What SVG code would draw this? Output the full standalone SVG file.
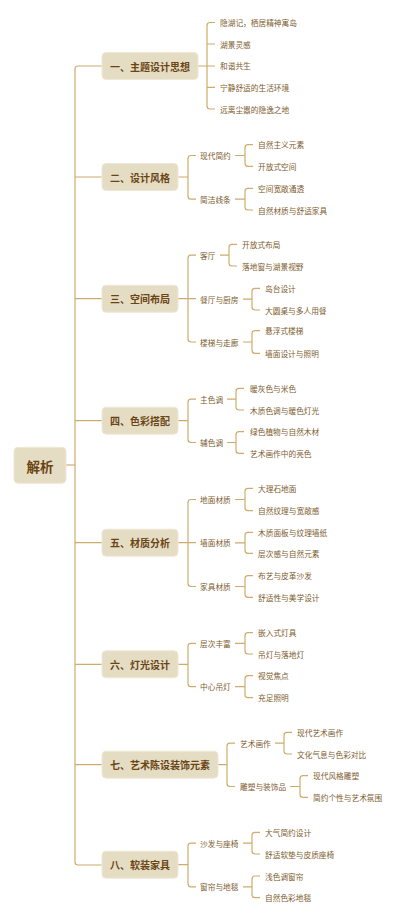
<svg xmlns="http://www.w3.org/2000/svg" width="400" height="920" viewBox="0 0 400 920">
<style>
.ln{fill:none;stroke:#cdac6c;stroke-width:1.2;stroke-linecap:butt}
.bx{fill:#e5dcc4;stroke:#efe8d8;stroke-width:1}
.t0{font-family:"Noto Sans CJK SC","Noto Sans",sans-serif;font-size:13.5px;font-weight:bold;fill:#6a4514;text-anchor:middle;dominant-baseline:central}
.t1{font-family:"Noto Sans CJK SC","Noto Sans",sans-serif;font-size:10px;font-weight:bold;fill:#6a4514;text-anchor:middle;dominant-baseline:central}
.t2{font-family:"Noto Sans CJK SC","Noto Sans",sans-serif;font-size:7.7px;fill:#7d5c2e;dominant-baseline:central}
</style>
<rect width="400" height="920" fill="#ffffff"/>
<g id="connectors" class="ln">
<path d="M66,465 H75"/>
<path d="M102,66 H78 Q75,66 75,69 V862 Q75,865 78,865 H102 M75,177 H102 M75,298.7 H102 M75,420.7 H102 M75,542.7 H102 M75,664.3 H102 M75,764.7 H102"/>
<path d="M198,66 H215 M215,22.5 H210 Q207,22.5 207,25.5 V106 Q207,109 210,109 H215 M207,44 H215 M207,87.3 H215"/>
<path d="M178,177 H188 M196,155.5 H191 Q188,155.5 188,158.5 V196.2 Q188,199.2 191,199.2 H196"/>
<path d="M235,155.5 H245 M253,144.7 H248 Q245,144.7 245,147.7 V163.3 Q245,166.3 248,166.3 H253"/>
<path d="M235,199.2 H245 M253,188.3 H248 Q245,188.3 245,191.3 V207 Q245,210 248,210 H253"/>
<path d="M178,298.7 H196 M196,255.2 H191 Q188,255.2 188,258.2 V339 Q188,342 191,342 H196"/>
<path d="M220,255.2 H229 M237,244.3 H232 Q229,244.3 229,247.3 V263 Q229,266 232,266 H237"/>
<path d="M243,299.2 H252 M260,288.3 H255 Q252,288.3 252,291.3 V307 Q252,310 255,310 H260"/>
<path d="M243,342 H252 M260,330.7 H255 Q252,330.7 252,333.7 V350.3 Q252,353.3 255,353.3 H260"/>
<path d="M178,420.7 H188 M196,399.2 H191 Q188,399.2 188,402.2 V439.5 Q188,442.5 191,442.5 H196"/>
<path d="M227,399.2 H236 M244,388.3 H239 Q236,388.3 236,391.3 V407 Q236,410 239,410 H244"/>
<path d="M227,442.5 H236 M244,431.7 H239 Q236,431.7 236,434.7 V450.3 Q236,453.3 239,453.3 H244"/>
<path d="M178,542.7 H196 M196,499.5 H191 Q188,499.5 188,502.5 V583.5 Q188,586.5 191,586.5 H196"/>
<path d="M235,499.5 H245 M253,488.3 H248 Q245,488.3 245,491.3 V507.7 Q245,510.7 248,510.7 H253"/>
<path d="M235,542.8 H245 M253,532.3 H248 Q245,532.3 245,535.3 V550.3 Q245,553.3 248,553.3 H253"/>
<path d="M235,586.5 H245 M253,575.7 H248 Q245,575.7 245,578.7 V594.3 Q245,597.3 248,597.3 H253"/>
<path d="M178,664.3 H188 M196,643.3 H191 Q188,643.3 188,646.3 V683.7 Q188,686.7 191,686.7 H196"/>
<path d="M235,643.3 H245 M253,632.7 H248 Q245,632.7 245,635.7 V651 Q245,654 248,654 H253"/>
<path d="M235,686.7 H245 M253,675.7 H248 Q245,675.7 245,678.7 V694.7 Q245,697.7 248,697.7 H253"/>
<path d="M218,764.7 H227 M235,743.2 H230 Q227,743.2 227,746.2 V783.5 Q227,786.5 230,786.5 H235"/>
<path d="M275,743.2 H284 M292,732.3 H287 Q284,732.3 284,735.3 V751 Q284,754 287,754 H292"/>
<path d="M290,786.5 H300 M308,775.7 H303 Q300,775.7 300,778.7 V794.3 Q300,797.3 303,797.3 H308"/>
<path d="M178,864.7 H188 M196,843.2 H191 Q188,843.2 188,846.2 V883.8 Q188,886.8 191,886.8 H196"/>
<path d="M243,843.2 H252 M260,832.3 H255 Q252,832.3 252,835.3 V851 Q252,854 255,854 H260"/>
<path d="M243,886.8 H252 M260,876 H255 Q252,876 252,879 V894.7 Q252,897.7 255,897.7 H260"/>
</g>
<g id="root"><rect class="bx" x="14" y="447.3" width="52" height="36" rx="4"/><text class="t0" x="40" y="465.5">解析</text></g>
<g id="n1"><rect class="bx" x="102" y="52.5" width="96" height="27" rx="4"/><text class="t1" x="150" y="66">一、主题设计思想</text></g>
<g id="n1-leaves">
<text class="t2" x="220" y="22.5">隐湖记，栖居精神寓岛</text>
<text class="t2" x="220" y="44">湖景灵感</text>
<text class="t2" x="220" y="65.7">和谐共生</text>
<text class="t2" x="220" y="87.3">宁静舒适的生活环境</text>
<text class="t2" x="220" y="109">远离尘嚣的隐逸之地</text>
</g>
<g id="n2"><rect class="bx" x="102" y="163.5" width="76" height="27" rx="4"/><text class="t1" x="140" y="177">二、设计风格</text></g>
<g id="n2-sub">
<text class="t2" x="200" y="155.5">现代简约</text>
<text class="t2" x="200" y="199.2">简洁线条</text>
<text class="t2" x="258" y="144.7">自然主义元素</text>
<text class="t2" x="258" y="166.3">开放式空间</text>
<text class="t2" x="258" y="188.3">空间宽敞通透</text>
<text class="t2" x="258" y="210">自然材质与舒适家具</text>
</g>
<g id="n3"><rect class="bx" x="102" y="285.2" width="76" height="27" rx="4"/><text class="t1" x="140" y="298.7">三、空间布局</text></g>
<g id="n3-sub">
<text class="t2" x="200" y="255.2">客厅</text>
<text class="t2" x="200" y="299.2">餐厅与厨房</text>
<text class="t2" x="200" y="342">楼梯与走廊</text>
<text class="t2" x="242" y="244.3">开放式布局</text>
<text class="t2" x="242" y="266">落地窗与湖景视野</text>
<text class="t2" x="265" y="288.3">岛台设计</text>
<text class="t2" x="265" y="310">大圆桌与多人用餐</text>
<text class="t2" x="265" y="330.7">悬浮式楼梯</text>
<text class="t2" x="265" y="353.3">墙面设计与照明</text>
</g>
<g id="n4"><rect class="bx" x="102" y="407.2" width="76" height="27" rx="4"/><text class="t1" x="140" y="420.7">四、色彩搭配</text></g>
<g id="n4-sub">
<text class="t2" x="200" y="399.2">主色调</text>
<text class="t2" x="200" y="442.5">辅色调</text>
<text class="t2" x="250" y="388.3">暖灰色与米色</text>
<text class="t2" x="250" y="410">木质色调与暖色灯光</text>
<text class="t2" x="250" y="431.7">绿色植物与自然木材</text>
<text class="t2" x="250" y="453.3">艺术画作中的亮色</text>
</g>
<g id="n5"><rect class="bx" x="102" y="529.2" width="76" height="27" rx="4"/><text class="t1" x="140" y="542.7">五、材质分析</text></g>
<g id="n5-sub">
<text class="t2" x="200" y="499.5">地面材质</text>
<text class="t2" x="200" y="542.8">墙面材质</text>
<text class="t2" x="200" y="586.5">家具材质</text>
<text class="t2" x="258" y="488.3">大理石地面</text>
<text class="t2" x="258" y="510.7">自然纹理与宽敞感</text>
<text class="t2" x="258" y="532.3">木质面板与纹理墙纸</text>
<text class="t2" x="258" y="553.3">层次感与自然元素</text>
<text class="t2" x="258" y="575.7">布艺与皮革沙发</text>
<text class="t2" x="258" y="597.3">舒适性与美学设计</text>
</g>
<g id="n6"><rect class="bx" x="102" y="650.8" width="76" height="27" rx="4"/><text class="t1" x="140" y="664.3">六、灯光设计</text></g>
<g id="n6-sub">
<text class="t2" x="200" y="643.3">层次丰富</text>
<text class="t2" x="200" y="686.7">中心吊灯</text>
<text class="t2" x="258" y="632.7">嵌入式灯具</text>
<text class="t2" x="258" y="654">吊灯与落地灯</text>
<text class="t2" x="258" y="675.7">视觉焦点</text>
<text class="t2" x="258" y="697.7">充足照明</text>
</g>
<g id="n7"><rect class="bx" x="102" y="751.2" width="116" height="27" rx="4"/><text class="t1" x="160" y="764.7">七、艺术陈设装饰元素</text></g>
<g id="n7-sub">
<text class="t2" x="240" y="743.2">艺术画作</text>
<text class="t2" x="240" y="786.5">雕塑与装饰品</text>
<text class="t2" x="297" y="732.3">现代艺术画作</text>
<text class="t2" x="297" y="754">文化气息与色彩对比</text>
<text class="t2" x="313" y="775.7">现代风格雕塑</text>
<text class="t2" x="313" y="797.3">简约个性与艺术氛围</text>
</g>
<g id="n8"><rect class="bx" x="102" y="851.2" width="76" height="27" rx="4"/><text class="t1" x="140" y="864.7">八、软装家具</text></g>
<g id="n8-sub">
<text class="t2" x="200" y="843.2">沙发与座椅</text>
<text class="t2" x="200" y="886.8">窗帘与地毯</text>
<text class="t2" x="265" y="832.3">大气简约设计</text>
<text class="t2" x="265" y="854">舒适软垫与皮质座椅</text>
<text class="t2" x="265" y="876">浅色调窗帘</text>
<text class="t2" x="265" y="897.7">自然色彩地毯</text>
</g>
</svg>
